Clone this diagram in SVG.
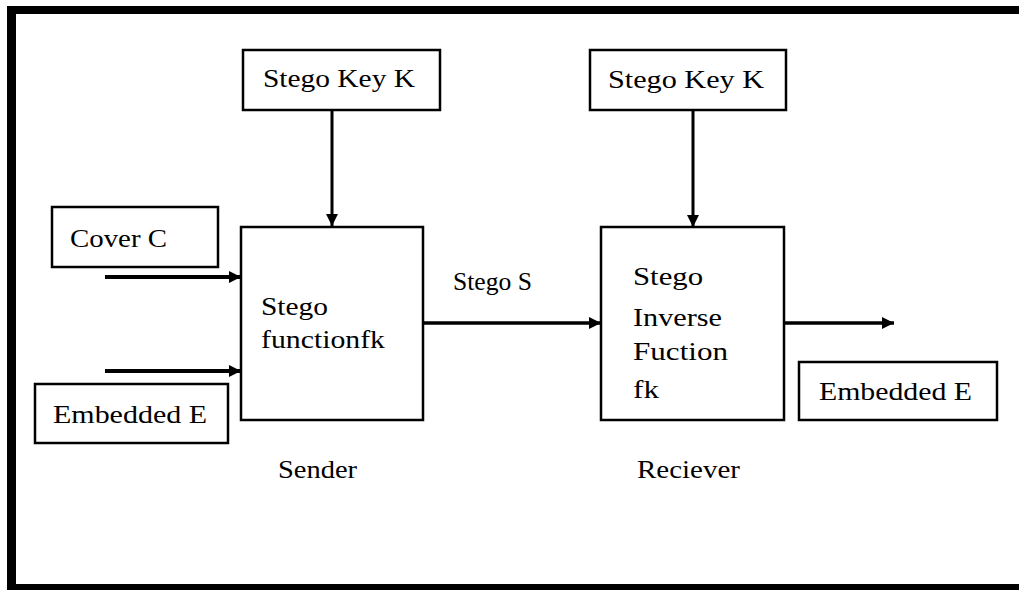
<svg xmlns="http://www.w3.org/2000/svg" width="1019" height="590" viewBox="0 0 1019 590">
  <style>
    .box { fill: #ffffff; stroke: #000000; stroke-width: 2.5; }
    .lbl { font-family: "Liberation Serif", "Times New Roman", serif; font-size: 25px; fill: #000000; }
    .wire { stroke: #000000; fill: none; }
  </style>
  <defs>
    <marker id="head" viewBox="0 0 10 10" refX="10" refY="5" markerWidth="12" markerHeight="12" markerUnits="userSpaceOnUse" orient="auto">
      <path d="M0,0 L10,5 L0,10 Z" fill="#000000"/>
    </marker>
  </defs>

  <!-- background and outer frame -->
  <rect x="0" y="0" width="1019" height="590" fill="#ffffff"/>
  <rect x="7" y="6" width="1012" height="8" fill="#000000"/>
  <rect x="7" y="6" width="9" height="584" fill="#000000"/>
  <rect x="7" y="584" width="1012" height="6" fill="#000000"/>

  <!-- connectors -->
  <g id="connectors">
    <line class="wire" x1="332" y1="110" x2="332" y2="226" stroke-width="3" marker-end="url(#head)"/>
    <line class="wire" x1="693" y1="110" x2="693" y2="227" stroke-width="3" marker-end="url(#head)"/>
    <line class="wire" x1="105" y1="277" x2="241" y2="277" stroke-width="4" marker-end="url(#head)"/>
    <line class="wire" x1="105" y1="371" x2="241" y2="371" stroke-width="4" marker-end="url(#head)"/>
    <line class="wire" x1="423" y1="323" x2="601" y2="323" stroke-width="3.5" marker-end="url(#head)"/>
    <line class="wire" x1="784" y1="323" x2="894" y2="323" stroke-width="3.5" marker-end="url(#head)"/>
  </g>

  <g id="key-sender">
    <rect class="box" x="243" y="50" width="197" height="60"/>
    <text class="lbl" x="263" y="87" textLength="152" lengthAdjust="spacingAndGlyphs">Stego Key K</text>
  </g>

  <g id="key-receiver">
    <rect class="box" x="590" y="50" width="196" height="60"/>
    <text class="lbl" x="608" y="88" textLength="156" lengthAdjust="spacingAndGlyphs">Stego Key K</text>
  </g>

  <g id="cover">
    <rect class="box" x="52" y="207" width="166" height="60"/>
    <text class="lbl" x="70" y="247" textLength="97" lengthAdjust="spacingAndGlyphs">Cover C</text>
  </g>

  <g id="embedded-in">
    <rect class="box" x="35" y="384" width="193" height="59"/>
    <text class="lbl" x="53" y="423" textLength="154" lengthAdjust="spacingAndGlyphs">Embedded E</text>
  </g>

  <g id="stego-function">
    <rect class="box" x="241" y="227" width="182" height="193"/>
    <text class="lbl" x="261" y="315" textLength="67" lengthAdjust="spacingAndGlyphs">Stego</text>
    <text class="lbl" x="261" y="348" textLength="124" lengthAdjust="spacingAndGlyphs">functionfk</text>
  </g>

  <g id="stego-inverse">
    <rect class="box" x="601" y="227" width="183" height="193"/>
    <text class="lbl" x="633" y="285" textLength="70" lengthAdjust="spacingAndGlyphs">Stego</text>
    <text class="lbl" x="633" y="326" textLength="89" lengthAdjust="spacingAndGlyphs">Inverse</text>
    <text class="lbl" x="633" y="360" textLength="95" lengthAdjust="spacingAndGlyphs">Fuction</text>
    <text class="lbl" x="633" y="398" textLength="26" lengthAdjust="spacingAndGlyphs">fk</text>
  </g>

  <g id="embedded-out">
    <rect class="box" x="799" y="362" width="198" height="58"/>
    <text class="lbl" x="819" y="400" textLength="153" lengthAdjust="spacingAndGlyphs">Embedded E</text>
  </g>

  <g id="labels">
    <text class="lbl" x="453" y="290" textLength="79" lengthAdjust="spacingAndGlyphs">Stego S</text>
    <text class="lbl" x="278" y="478" textLength="79" lengthAdjust="spacingAndGlyphs">Sender</text>
    <text class="lbl" x="637" y="478" textLength="103" lengthAdjust="spacingAndGlyphs">Reciever</text>
  </g>
</svg>
